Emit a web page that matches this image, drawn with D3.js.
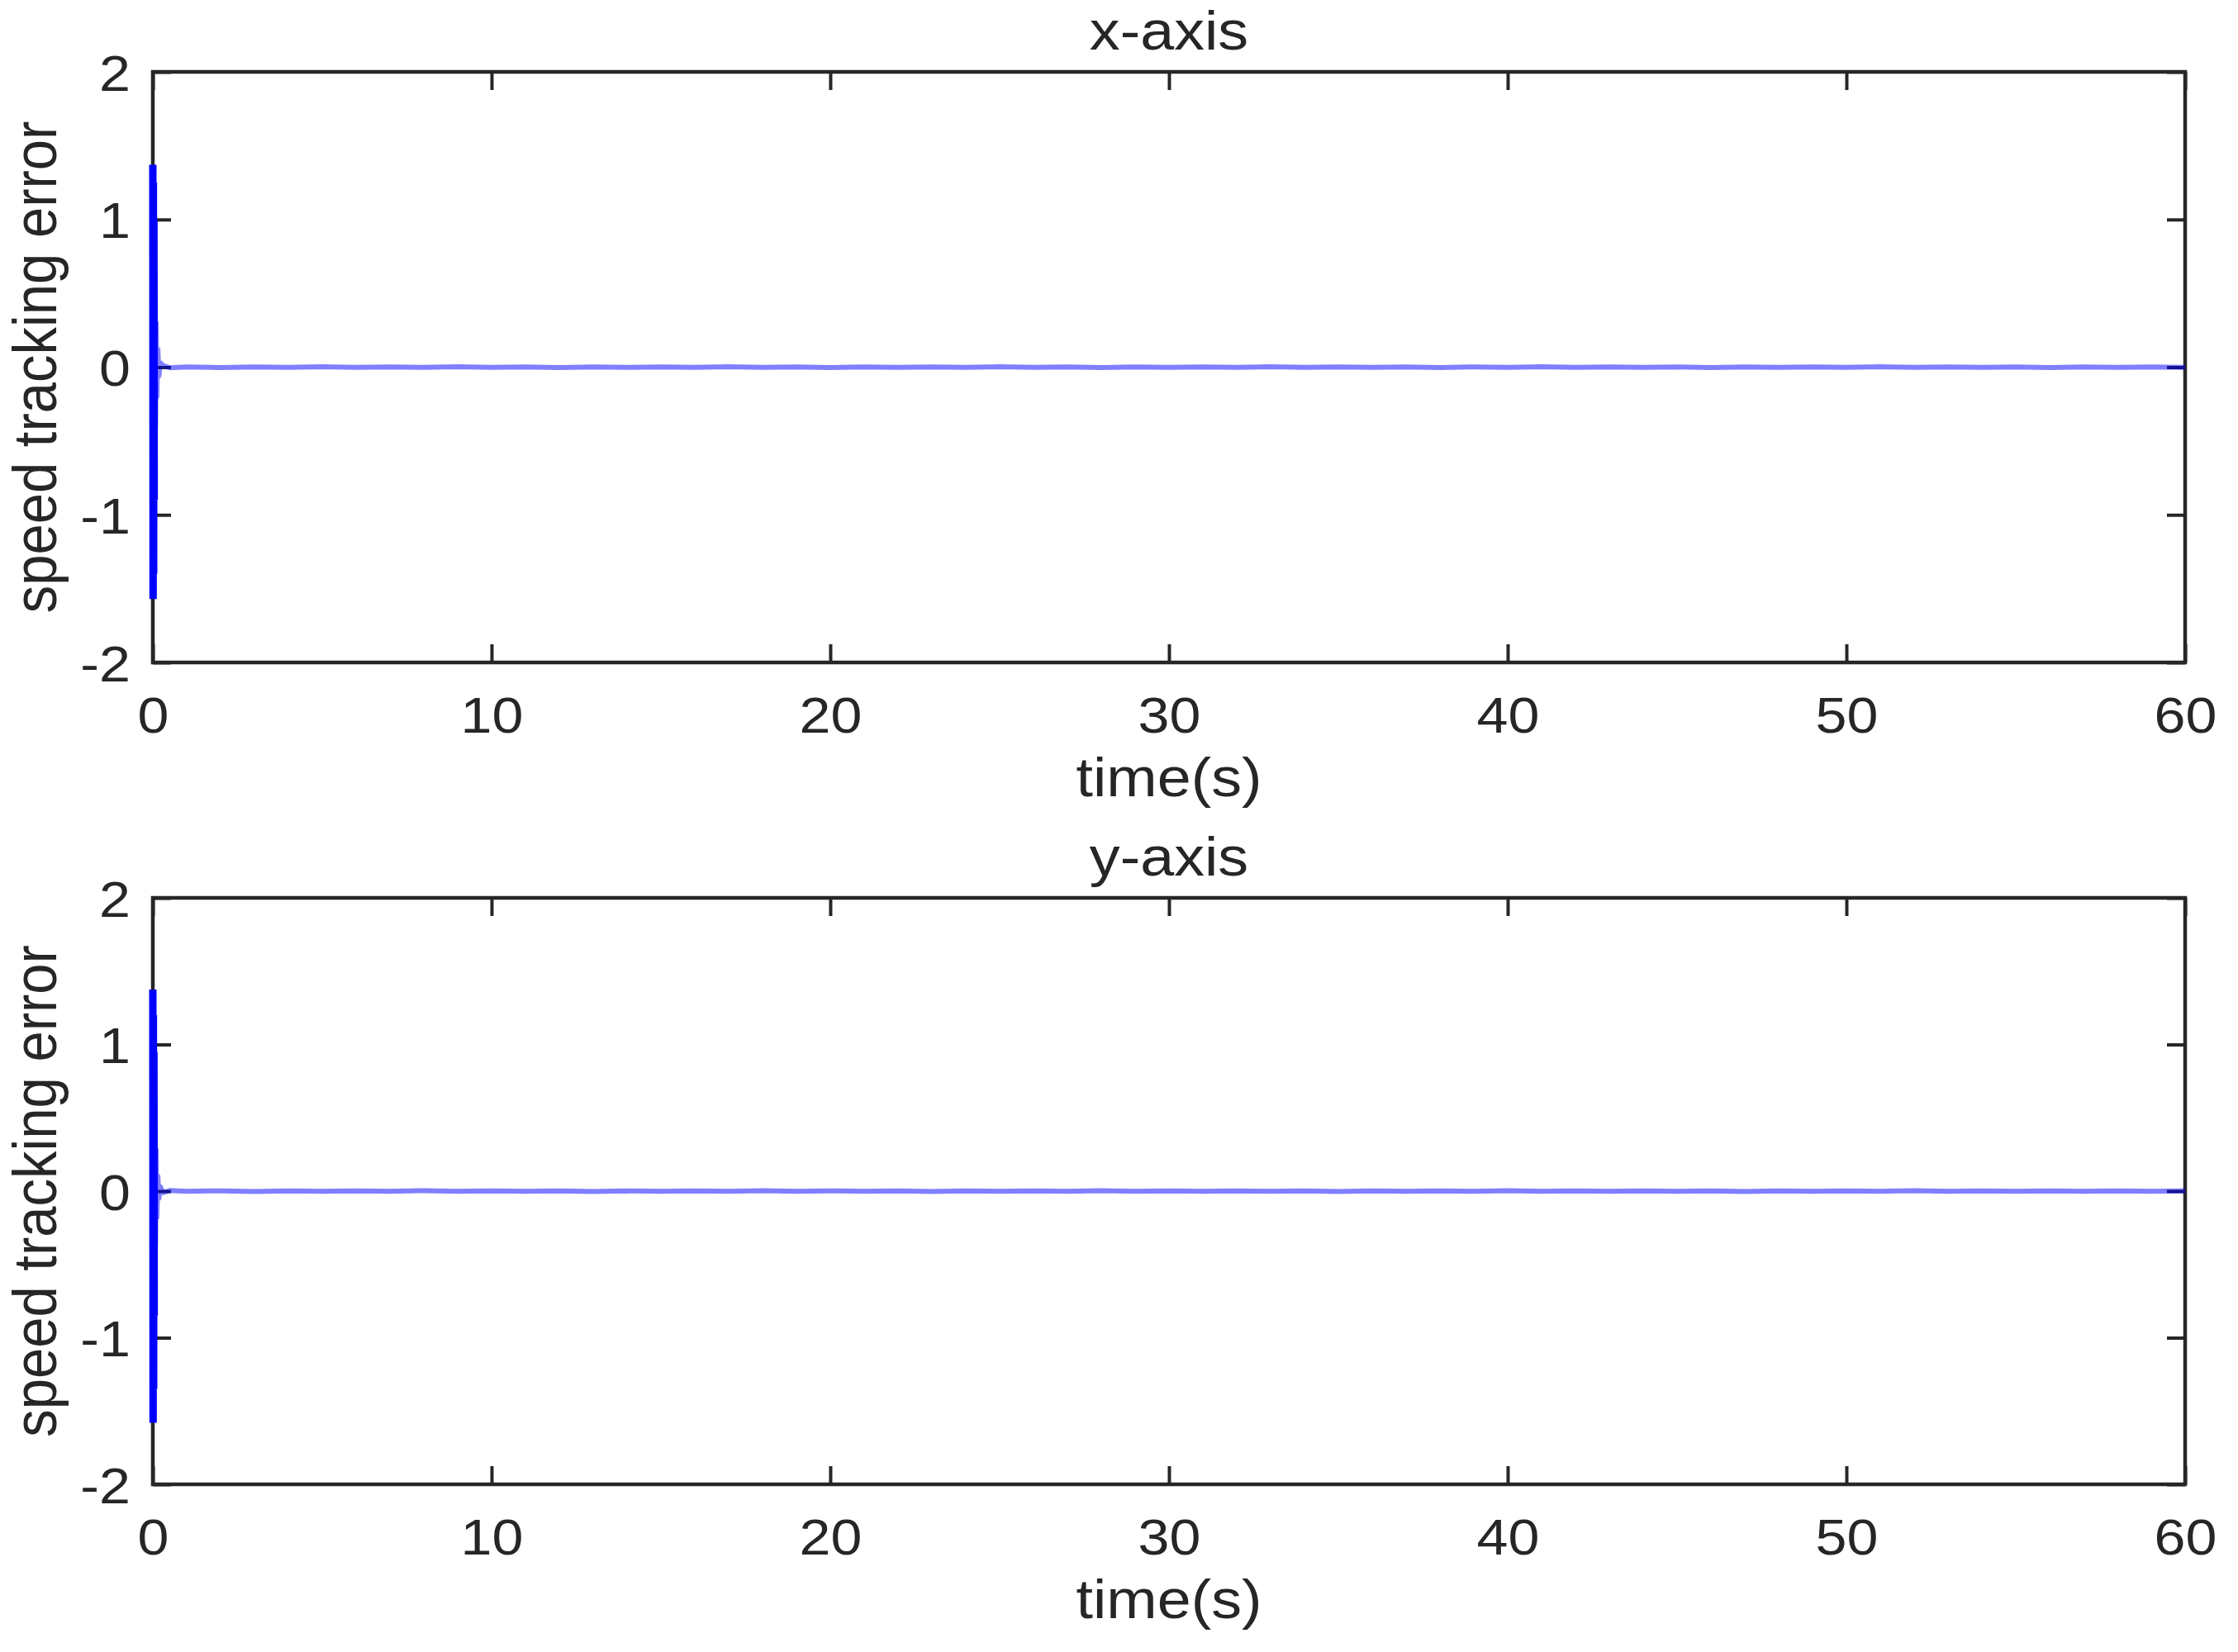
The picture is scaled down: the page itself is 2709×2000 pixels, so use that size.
<!DOCTYPE html>
<html>
<head>
<meta charset="utf-8">
<script src="https://cdn.jsdelivr.net/npm/d3@7"></script>
<style>
  html, body { margin: 0; padding: 0; background: #ffffff; }
  svg { display: block; }
</style>
</head>
<body>
<svg id="chart" width="2709" height="2000"></svg>
<script>
// ---------------- data ----------------
const panelTitles = ["x-axis", "y-axis"];
const xLabel = "time(s)";
const yLabel = "speed tracking error";

const xTicks = [0, 10, 20, 30, 40, 50, 60];
const xTickLabels = ["0", "10", "20", "30", "40", "50", "60"];
const yTicks = [-2, -1, 0, 1, 2];
const yTickLabels = ["-2", "-1", "0", "1", "2"];

const timeX = [0, 0.008, 0.016, 0.024, 0.032, 0.04, 0.06, 0.08, 0.1, 0.12, 0.15, 0.18, 0.22, 0.3, 0.5,
  1, 2, 3, 4, 5, 6, 7, 8, 9, 10, 11, 12, 13, 14, 15, 16, 17, 18, 19, 20,
  21, 22, 23, 24, 25, 26, 27, 28, 29, 30, 31, 32, 33, 34, 35, 36, 37, 38, 39, 40,
  41, 42, 43, 44, 45, 46, 47, 48, 49, 50, 51, 52, 53, 54, 55, 56, 57, 58, 59, 60];
const errX = [1.37, -1.57, 1.25, -1.4, 1.0, -0.9, 0.64, -0.4, 0.3, -0.2, 0.12, -0.06, 0.03, 0.01, -0.004,
  0.002, -0.003, 0.002, -0.001, 0.003, -0.002, 0.001, -0.002, 0.003, -0.001, 0.002, -0.003, 0.002, -0.002, 0.001,
  -0.002, 0.003, -0.001, 0.002, -0.003, 0.002, -0.001, 0.002, -0.002, 0.003, -0.002, 0.001, -0.003, 0.002, -0.001,
  0.002, -0.002, 0.003, -0.001, 0.002, -0.002, 0.001, -0.003, 0.002, -0.002, 0.003, -0.001, 0.002, -0.002, 0.001,
  -0.003, 0.002, -0.001, 0.002, -0.002, 0.003, -0.001, 0.002, -0.002, 0.001, -0.003, 0.002, -0.001, 0.002, -0.001];

const timeY = [0, 0.008, 0.016, 0.024, 0.032, 0.04, 0.06, 0.08, 0.1, 0.12, 0.15, 0.18, 0.22, 0.3, 0.5,
  1, 2, 3, 4, 5, 6, 7, 8, 9, 10, 11, 12, 13, 14, 15, 16, 17, 18, 19, 20,
  21, 22, 23, 24, 25, 26, 27, 28, 29, 30, 31, 32, 33, 34, 35, 36, 37, 38, 39, 40,
  41, 42, 43, 44, 45, 46, 47, 48, 49, 50, 51, 52, 53, 54, 55, 56, 57, 58, 59, 60];
const errY = [1.375, -1.58, 1.2, -1.35, 0.95, -0.85, 0.6, -0.37, 0.28, -0.18, 0.1, -0.05, 0.03, -0.01, 0.004,
  -0.002, 0.002, -0.003, 0.001, -0.002, 0.002, -0.001, 0.003, -0.002, 0.001, -0.002, 0.002, -0.003, 0.001, -0.002,
  0.002, -0.001, 0.003, -0.002, 0.002, -0.001, 0.002, -0.003, 0.001, -0.002, 0.002, -0.001, 0.003, -0.002, 0.002,
  -0.001, 0.002, -0.002, 0.001, -0.003, 0.002, -0.001, 0.002, -0.002, 0.003, -0.001, 0.002, -0.002, 0.001, -0.002,
  0.002, -0.003, 0.001, -0.002, 0.002, -0.001, 0.003, -0.002, 0.001, -0.002, 0.002, -0.001, 0.002, -0.002, 0.001];

const panelTimes = [timeX, timeY];
const panelErrors = [errX, errY];

// ---------------- layout ----------------
const W = 2709, H = 2000;
const left = 185, right = 2645;
const panelTops = [87, 1087];
const panelBottoms = [802, 1797];
const axisColor = "#262626";
const font = "'Liberation Sans', Arial, Helvetica, sans-serif";
const tickFont = 62, labelFont = 67, stretch = 1.1;
const tickLen = 22;
const spikeEnd = 0.04;

const svg = d3.select("#chart");
svg.append("rect").attr("width", W).attr("height", H).attr("fill", "#ffffff");

const x = d3.scaleLinear().domain([0, 60]).range([left, right]);

panelTitles.forEach((title, i) => {
  const top = panelTops[i], bottom = panelBottoms[i];
  const y = d3.scaleLinear().domain([-2, 2]).range([bottom, top]);
  const g = svg.append("g");

  // axes (ticks pointing inward, box on)
  const axB = g.append("g").attr("transform", `translate(0,${bottom})`)
    .call(d3.axisBottom(x).tickValues(xTicks).tickFormat((d, k) => xTickLabels[k])
      .tickSizeInner(-tickLen).tickSizeOuter(0));
  const axT = g.append("g").attr("transform", `translate(0,${top})`)
    .call(d3.axisTop(x).tickValues(xTicks).tickFormat("").tickSizeInner(-tickLen).tickSizeOuter(0));
  const axL = g.append("g").attr("transform", `translate(${left},0)`)
    .call(d3.axisLeft(y).tickValues(yTicks).tickFormat((d, k) => yTickLabels[k])
      .tickSizeInner(-tickLen).tickSizeOuter(0));
  const axR = g.append("g").attr("transform", `translate(${right},0)`)
    .call(d3.axisRight(y).tickValues(yTicks).tickFormat("").tickSizeInner(-tickLen).tickSizeOuter(0));

  [axB, axT, axL, axR].forEach(a => {
    a.select(".domain").remove();
    a.selectAll(".tick line").attr("stroke", axisColor).attr("stroke-width", 4);
  });

  axB.selectAll(".tick text")
    .attr("y", 0).attr("dy", null)
    .attr("transform", "translate(0,85) scale(" + stretch + ",1)")
    .attr("fill", axisColor).style("font-family", font).style("font-size", tickFont + "px");
  axL.selectAll(".tick text")
    .attr("x", 0).attr("dy", "0.358em")
    .attr("transform", "translate(-27,0) scale(" + stretch + ",1)")
    .attr("fill", axisColor).style("font-family", font).style("font-size", tickFont + "px");

  // frame
  g.append("rect").attr("x", left).attr("y", top)
    .attr("width", right - left).attr("height", bottom - top)
    .attr("fill", "none").attr("stroke", axisColor).attr("stroke-width", 4.5);

  // data
  const pts = panelTimes[i].map((t, k) => [t, panelErrors[i][k]]);
  const line = d3.line().x(d => x(d[0])).y(d => y(d[1]));
  g.append("path").datum(pts.filter(d => d[0] >= spikeEnd - 1e-9))
    .attr("d", line).attr("fill", "none")
    .attr("stroke", "#0000ff").attr("stroke-opacity", 0.5)
    .attr("stroke-width", 6).attr("stroke-linejoin", "round");
  g.append("path").datum(pts.filter(d => d[0] <= spikeEnd + 1e-9))
    .attr("d", line).attr("fill", "none")
    .attr("stroke", "#0000ff").attr("stroke-width", 9)
    .attr("stroke-linejoin", "miter").attr("stroke-miterlimit", 1);

  // title
  g.append("text").attr("transform", `translate(${(left + right) / 2},${top - 27}) scale(${stretch},1)`)
    .attr("text-anchor", "middle").attr("fill", axisColor)
    .style("font-family", font).style("font-size", labelFont + "px").text(title);

  // x label
  g.append("text").attr("transform", `translate(${(left + right) / 2},${bottom + 162}) scale(${stretch},1)`)
    .attr("text-anchor", "middle").attr("fill", axisColor)
    .style("font-family", font).style("font-size", labelFont + "px").text(xLabel);

  // y label
  g.append("text").attr("transform", `translate(68,${(top + bottom) / 2}) scale(${stretch},1) rotate(-90)`)
    .attr("text-anchor", "middle").attr("fill", axisColor)
    .style("font-family", font).style("font-size", labelFont + "px").text(yLabel);
});
</script>
</body>
</html>
